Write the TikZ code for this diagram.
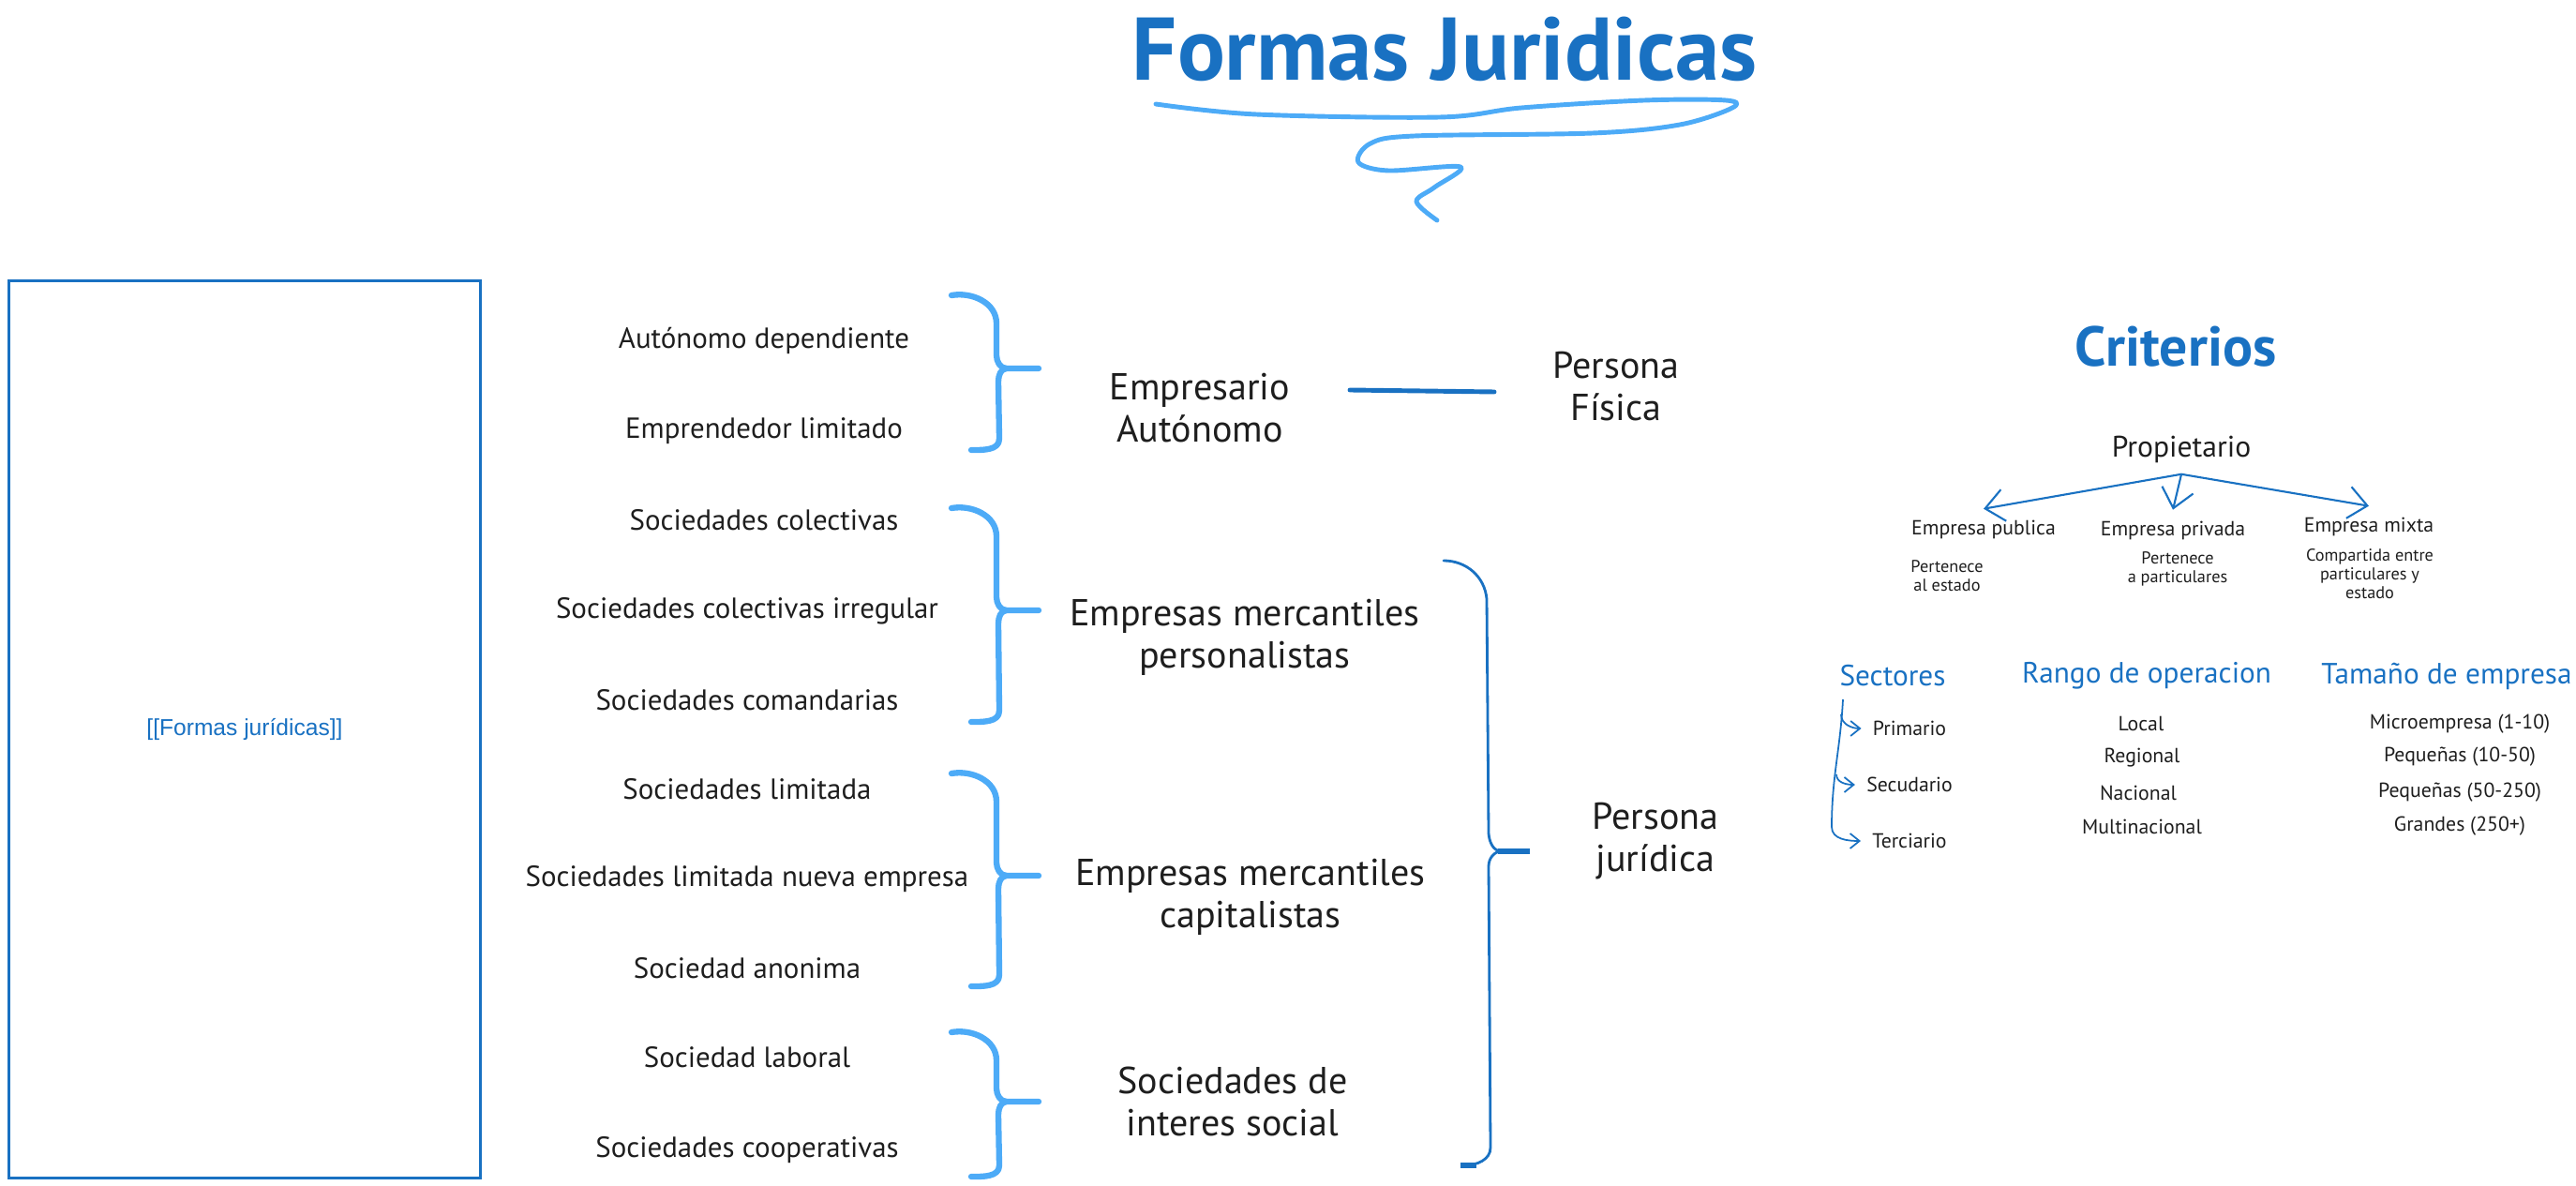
\documentclass[tikz,border=0pt]{standalone}
\usepackage{fontspec}
\setmainfont{PT Sans}
\newfontfamily\boxfont{Liberation Sans}
\usetikzlibrary{positioning, arrows.meta, calc}
\definecolor{ink}{RGB}{30,30,30}
\definecolor{inkblue}{RGB}{25,113,194}
\definecolor{skyblue}{RGB}{77,171,247}

\begin{document}
\begin{tikzpicture}[
          item/.style={text=ink, font=\fontsize{8.8}{10}\selectfont},
          group/.style={text=ink, align=center, font=\fontsize{11.4}{12.8}\selectfont},
          head/.style={text=inkblue, font=\fontsize{8.9}{10}\selectfont},
          tiny/.style={text=ink, font=\fontsize{6.2}{7}\selectfont},
          note/.style={text=ink, align=center, font=\fontsize{5.2}{5.7}\selectfont},
          brk/.style={skyblue, line width=1.8pt, line cap=round, line join=round},
          bigbrk/.style={inkblue, line width=0.8pt, line cap=round},
          link/.style={inkblue, line width=1.4pt, line cap=round},
          parr/.style={inkblue, line width=0.6pt, -{Straight Barb[length=2mm, width=3.4mm]}},
          sarr/.style={inkblue, line width=0.5pt, -{Straight Barb[length=1mm, width=1.6mm]}}]
        \useasboundingbox (0,0) rectangle (27.48,12.64);

        % title and its squiggle
        \node[text=inkblue, font=\fontsize{27}{30}\selectfont\bfseries] (title) at (15.41,12.12) {Formas Juridicas};
        \draw[skyblue, line width=1.4pt, line cap=round, line join=round]
          plot[smooth, tension=0.55] coordinates {(12.33,11.53) (13.40,11.42) (15.36,11.39) (16.23,11.49)
          (17.54,11.57) (18.41,11.57) (18.48,11.49) (17.92,11.31) (16.99,11.22) (15.09,11.19) (14.62,11.11)
          (14.49,10.91) (14.81,10.82) (15.58,10.86) (15.30,10.64) (15.11,10.49) (15.33,10.29)};

        % embedded note
        \node[draw=inkblue, line width=0.6pt, minimum width=5.03cm, minimum height=9.57cm,
              text=inkblue, font=\boxfont\fontsize{7}{8}\selectfont] (note) at (2.61,4.86) {[[Formas jurídicas]]};

        % left column
        \node[item] (ad)   at (8.15,9.01) {Autónomo dependiente};
        \node[item] (el)   at (8.15,8.04) {Emprendedor limitado};
        \node[item] (sc)   at (8.15,7.09) {Sociedades colectivas};
        \node[item] (sci)  at (7.97,6.12) {Sociedades colectivas irregular};
        \node[item] (scm)  at (7.97,5.17) {Sociedades comandarias};
        \node[item] (sl)   at (7.97,4.22) {Sociedades limitada};
        \node[item] (sln)  at (7.97,3.26) {Sociedades limitada nueva empresa};
        \node[item] (sa)   at (7.97,2.31) {Sociedad anonima};
        \node[item] (slab) at (7.97,1.36) {Sociedad laboral};
        \node[item] (scp)  at (7.97,0.37) {Sociedades cooperativas};

        \foreach \t/\m/\b in {9.49/8.71/7.84, 7.22/6.13/4.94, 4.39/3.30/2.12, 1.63/0.89/0.09}
          \draw[brk] (10.15,\t) to[out=10, in=90] (10.63,\t-0.3) -- (10.63,\m+0.14)
                     to[out=-90, in=180] (10.74,\m) -- (11.08,\m)
                     (10.74,\m) to[out=180, in=90] (10.65,\m-0.14) -- (10.66,\b+0.12)
                     to[out=-90, in=0] (10.36,\b);

        % groups
        \node[group] (ea)  at (12.80,8.29) {Empresario\\Autónomo};
        \node[group] (pf)  at (17.24,8.52) {Persona\\Física};
        \node[group] (emp) at (13.28,5.84) {Empresas mercantiles\\personalistas};
        \node[group] (emc) at (13.34,3.07) {Empresas mercantiles\\capitalistas};
        \node[group] (sis) at (13.15,0.89) {Sociedades de\\interes social};
        \node[group] (pj)  at (17.66,3.67) {Persona\\jurídica};

        \draw[link] ($(ea)+(1.60,0.19)$) -- ($(pf)+(-1.30,-0.06)$);

        \draw[bigbrk] (15.40,6.66) to[out=0, in=95] (15.86,6.25) -- (15.88,3.75) to[out=-85, in=180] (16.02,3.56)
                      (16.02,3.56) to[out=180, in=90] (15.88,3.40) -- (15.90,0.40) to[out=-90, in=0] (15.62,0.21);
        \draw[inkblue, line width=1.8pt] (15.98,3.56) -- (16.32,3.56);
        \draw[inkblue, line width=1.8pt] (15.58,0.21) -- (15.75,0.21);

        % criterios
        \node[text=inkblue, font=\fontsize{17}{20}\selectfont\bfseries] (crit) at (23.21,8.94) {Criterios};
        \node[text=ink, font=\fontsize{9}{10}\selectfont] (prop) at (23.27,7.85) {Propietario};
        \node[tiny] (pub)  at (21.16,6.99) {Empresa publica};
        \node[tiny] (priv) at (23.18,6.98) {Empresa privada};
        \node[tiny] (mix)  at (25.27,7.02) {Empresa mixta};
        \node[note] (pubn)  at (20.77,6.50) {Pertenece\\al estado};
        \node[note] (privn) at (23.23,6.57) {Pertenece\\a particulares};
        \node[note] (mixn)  at (25.28,6.52) {Compartida entre\\particulares y\\estado};
        \draw[parr] (prop.south) -- (pub.north);
        \draw[parr] (prop.south) -- (priv.north);
        \draw[parr] (prop.south) -- (mix.north);

        \node[head] (sect)  at (20.19,5.43) {Sectores};
        \node[head] (rango) at (22.90,5.43) {Rango de operacion};
        \node[head] (tam)   at (26.10,5.43) {Tamaño de empresa};

        \node[tiny] (pri) at (20.37,4.87) {Primario};
        \node[tiny] (sec) at (20.37,4.27) {Secudario};
        \node[tiny] (ter) at (20.37,3.67) {Terciario};
        \coordinate (root) at (19.66,5.18);
        \draw[sarr] (root) to[out=-93, in=90] (19.54,3.82) to[out=-90, in=180] (ter.west);
        \draw[sarr] (19.64,5.02) to[out=-90, in=180] (pri.west);
        \draw[sarr] (19.59,4.38) to[out=-90, in=180] (sec.west);

        \node[tiny] (loc)  at (22.84,4.92) {Local};
        \node[tiny] (reg)  at (22.85,4.56) {Regional};
        \node[tiny] (nac)  at (22.81,4.18) {Nacional};
        \node[tiny] (mult) at (22.85,3.82) {Multinacional};

        \node[tiny] (micro) at (26.24,4.92) {Microempresa (1-10)};
        \node[tiny] (peq)   at (26.24,4.57) {Pequeñas (10-50)};
        \node[tiny] (med)   at (26.24,4.19) {Pequeñas (50-250)};
        \node[tiny] (gran)  at (26.24,3.83) {Grandes (250+)};
      \end{tikzpicture}
\end{document}
